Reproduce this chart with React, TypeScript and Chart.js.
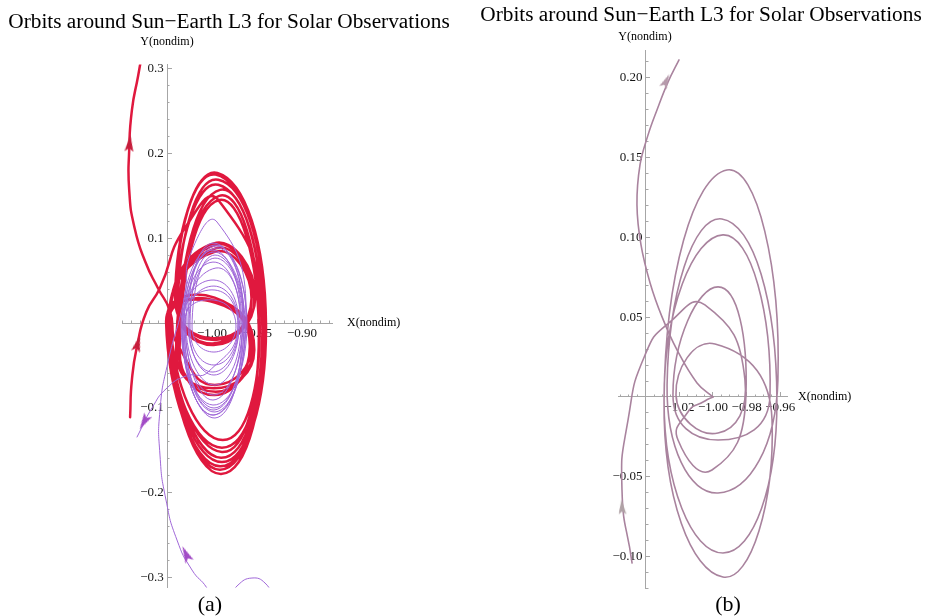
import React, { useEffect, useRef } from 'react';
import { Chart, registerables } from 'chart.js';

Chart.register(...registerables);

const TITLE = 'Orbits around Sun\u2212Earth L3 for Solar Observations';
const SERIF = "'Liberation Serif', 'Times New Roman', serif";
const AXIS_COLOR = '#a6a6a6';
const RED = '#e0183e';
const PURPLE = '#a068d8';
const MAUVE = '#a9839e';

// ---------- Panel (a) ticks ----------
const A_X_TICKS = [-1.0, -0.95, -0.9];
const A_X_LABELS = ['\u22121.00', '\u22120.95', '\u22120.90'];
const A_X_MINOR = [-1.10, -1.09, -1.08, -1.07, -1.06, -1.05, -1.04, -1.03, -1.02, -1.01, -1.00, -0.99, -0.98, -0.97, -0.96, -0.95, -0.94, -0.93, -0.92, -0.91, -0.90, -0.89, -0.88, -0.87];
const A_Y_TICKS = [-0.3, -0.2, -0.1, 0.1, 0.2, 0.3];
const A_Y_LABELS = ['\u22120.3', '\u22120.2', '\u22120.1', '0.1', '0.2', '0.3'];
const A_Y_MINOR = [-0.30, -0.28, -0.26, -0.24, -0.22, -0.20, -0.18, -0.16, -0.14, -0.12, -0.10, -0.08, -0.06, -0.04, -0.02, 0.02, 0.04, 0.06, 0.08, 0.10, 0.12, 0.14, 0.16, 0.18, 0.20, 0.22, 0.24, 0.26, 0.28, 0.30];

// ---------- Panel (a) red trajectory ----------
const A_RED_ARRIVAL = [
  [-1.091, -0.111], [-1.089, -0.067], [-1.083, -0.026], [-1.073, 0.013], [-1.058, 0.041], [-1.030, 0.112],
];
const A_RED_LOOPS = [
  [-0.993, 0.145], [-0.944, -0.008], [-0.989, -0.164], [-1.047, -0.008],
  [-0.997, 0.092], [-0.953, 0.027], [-0.997, -0.020], [-1.040, 0.027],
  [-0.996, 0.175], [-0.941, 0.004], [-0.991, -0.173], [-1.049, 0.001],
  [-0.998, 0.025], [-0.954, -0.026], [-0.996, -0.081], [-1.038, -0.026],
  [-0.991, 0.157], [-0.944, -0.002], [-0.989, -0.147], [-1.048, -0.002],
  [-0.996, 0.088], [-0.956, 0.030], [-0.999, -0.024], [-1.038, 0.027],
  [-0.993, 0.169], [-0.942, 0.006], [-0.990, -0.178], [-1.050, 0.004],
  [-0.997, 0.030], [-0.953, -0.032], [-0.998, -0.077], [-1.040, -0.032],
  [-0.992, 0.150], [-0.947, 0.001], [-0.988, -0.138], [-1.046, 0.001],
  [-0.998, 0.094], [-0.952, 0.032], [-0.996, -0.018], [-1.041, 0.030],
  [-0.994, 0.177], [-0.940, -0.001], [-0.991, -0.169], [-1.051, 0.001],
  [-0.996, 0.024], [-0.958, -0.028], [-0.997, -0.085], [-1.036, -0.030],
  [-0.992, 0.145], [-0.948, -0.008], [-0.989, -0.152], [-1.047, -0.002],
  [-0.997, 0.084], [-0.956, 0.027], [-0.998, -0.026], [-1.039, 0.025],
  [-0.993, 0.163], [-0.944, -0.002], [-0.990, -0.159], [-1.048, 0.000],
  [-0.998, 0.027], [-0.956, -0.026], [-0.997, -0.073], [-1.038, -0.026],
];
const A_RED_DEPARTURE = [
  [-1.047, 0.015], [-1.060, 0.041], [-1.074, 0.072], [-1.086, 0.112], [-1.092, 0.157],
  [-1.092, 0.204], [-1.089, 0.251], [-1.082, 0.292], [-1.077, 0.322],
];

// ---------- Panel (a) purple trajectory ----------
const A_PURPLE_ARRIVAL = [
  [-0.9967, -0.3325], [-1.0056, -0.3125], [-1.0222, -0.2913], [-1.0389, -0.2559], [-1.0511, -0.2087],
  [-1.0578, -0.1557], [-1.0578, -0.1026], [-1.0489, -0.046], [-1.0311, 0.0271], [-1.0222, 0.0861],
];
const A_PURPLE_LOOPS = [
  [-0.9944, 0.1191], [-0.9622, 0.0035], [-0.9978, -0.1085], [-1.0333, -0.0024],
  [-0.9967, 0.0920], [-0.9644, 0.0012], [-0.9978, -0.1026], [-1.0311, -0.0035],
  [-0.9989, 0.0861], [-0.9667, -0.0035], [-0.9967, -0.1120], [-1.0322, -0.0083],
  [-0.9956, 0.0649], [-0.9689, 0.0035], [-0.9989, -0.0578], [-1.0267, 0.0012],
  [-0.9978, 0.0943], [-0.9611, -0.0024], [-0.9989, -0.0967], [-1.0344, 0.0012],
  [-0.9967, 0.0389], [-0.9711, -0.0059], [-0.9978, -0.0495], [-1.0244, -0.0059],
  [-0.9989, 0.0837], [-0.9633, 0.0012], [-0.9967, -0.1049], [-1.0322, -0.0035],
  [-0.9956, 0.0884], [-0.9656, 0.0059], [-0.9989, -0.0908], [-1.0300, 0.0035],
  [-0.9978, 0.0271], [-0.9733, -0.0035], [-0.9978, -0.0342], [-1.0222, -0.0035],
  [-0.9967, 0.0802], [-0.9644, -0.0024], [-0.9978, -0.1002], [-1.0311, -0.0024],
  [-0.9989, 0.0719], [-0.9678, 0.0012], [-0.9967, -0.0731], [-1.0289, -0.0012],
  [-0.9956, 0.0908], [-0.9622, 0.0035], [-0.9989, -0.1085], [-1.0333, 0.0012],
  [-0.9978, 0.0507], [-0.9700, -0.0024], [-0.9978, -0.0613], [-1.0256, -0.0024],
  [-0.9967, 0.0766], [-0.9656, 0.0], [-0.9978, -0.0849], [-1.0300, -0.0024],
  [-0.9978, 0.0436], [-0.9711, -0.0035], [-1.0044, -0.0578],
];
const A_PURPLE_DEPARTURE = [
  [-1.0289, -0.0625], [-1.0500, -0.0766], [-1.0667, -0.1002], [-1.0833, -0.1344],
];
const A_PURPLE_ARC = [
  [-0.9822, -0.3266], [-0.9711, -0.3090], [-0.9556, -0.3007], [-0.9411, -0.3066], [-0.9300, -0.3266],
];

// ---------- Panel (a) arrowheads ----------
const A_ARROW_POS = [[-1.0915, 0.212], [-1.0825, -0.024], [-1.0756, -0.1167], [-1.0289, -0.2724]];
const A_ARROW_ROT = [5, 15, 210, -25];
const A_ARROW_COLORS = ['#c61d3b', '#c61d3b', '#a24cc6', '#a24cc6'];

// ---------- Panel (b) ticks ----------
const B_X_TICKS = [-1.02, -1.0, -0.98, -0.96];
const B_X_LABELS = ['\u22121.02', '\u22121.00', '\u22120.98', '\u22120.96'];
const B_X_MINOR = [-1.055, -1.05, -1.045, -1.04, -1.035, -1.03, -1.025, -1.02, -1.015, -1.01, -1.005, -1.00, -0.995, -0.99, -0.985, -0.98, -0.975, -0.97, -0.965, -0.96];
const B_Y_TICKS = [-0.1, -0.05, 0.05, 0.1, 0.15, 0.2];
const B_Y_LABELS = ['\u22120.10', '\u22120.05', '0.05', '0.10', '0.15', '0.20'];
const B_Y_MINOR = [-0.12, -0.11, -0.10, -0.09, -0.08, -0.07, -0.06, -0.05, -0.04, -0.03, -0.02, -0.01, 0.01, 0.02, 0.03, 0.04, 0.05, 0.06, 0.07, 0.08, 0.09, 0.10, 0.11, 0.12, 0.13, 0.14, 0.15, 0.16, 0.17, 0.18, 0.19, 0.20, 0.21];

// ---------- Panel (b) trajectory ----------
const B_ARRIVAL = [
  [-1.0481, -0.1041], [-1.0541, -0.0583], [-1.0505, -0.0144], [-1.0404, 0.0263], [-1.0262, 0.0464],
];
const B_LOOPS = [
  [-1.0048, 0.0577], [-0.9810, 0.0107], [-0.9970, -0.0226],
  [-1.0220, 0.0013], [-0.9988, 0.0332], [-0.9649, -0.0144], [-0.9941, -0.1129],
  [-1.0291, -0.0019], [-0.9917, 0.1423], [-0.9614, 0.0107], [-0.9970, -0.0602],
  [-1.0273, 0.0075], [-0.9947, 0.1116], [-0.9620, -0.0019], [-0.9941, -0.0978],
  [-1.0291, -0.0019], [-0.9941, 0.1016], [-0.9661, 0.0013], [-0.9970, -0.0270],
  [-1.0238, 0.0013], [-0.9970, 0.0690], [-0.9804, 0.0013], [-1.0006, -0.0458],
  [-1.0208, -0.0270], [-1.0149, -0.0094], [-1.0048, -0.0025], [-1.0000, 0.0],
];
const B_DEPARTURE = [
  [-1.0000, 0.0], [-1.0095, 0.0088], [-1.0214, 0.0295], [-1.0303, 0.0502], [-1.0374, 0.0715],
  [-1.0428, 0.0953], [-1.0452, 0.1204], [-1.0434, 0.1455], [-1.0386, 0.1643], [-1.0333, 0.1799],
  [-1.0267, 0.1975], [-1.0202, 0.2113],
];
const B_ARROW_POS = [[-1.0279, 0.1981], [-1.0541, -0.0690]];
const B_ARROW_ROT = [25, -3];
const B_ARROW_COLORS = ['#b69aab', '#b0a2a6'];

const toXY = (arr: number[][]) => arr.map(([x, y]) => ({ x, y }));

function makeArrow(color: string, w: number, h: number) {
  const c = document.createElement('canvas');
  c.width = w;
  c.height = h;
  const g = c.getContext('2d') as CanvasRenderingContext2D;
  g.fillStyle = color;
  g.beginPath();
  g.moveTo(w / 2, 0);
  g.lineTo(w, h);
  g.lineTo(w / 2, h * 0.78);
  g.lineTo(0, h);
  g.closePath();
  g.fill();
  return c;
}

function scale(axis: 'x' | 'y', pos: any, min: number, max: number, ticks: number[], labels: string[] | null, pad: number) {
  const major = !!labels;
  return {
    type: 'linear',
    axis,
    position: pos,
    min,
    max,
    afterBuildTicks: (s: any) => {
      s.ticks = ticks.map((v) => ({ value: v }));
    },
    ticks: {
      display: major,
      autoSkip: false,
      maxRotation: 0,
      minRotation: 0,
      padding: pad,
      color: '#151515',
      font: { family: SERIF, size: 13 },
      callback: (_v: any, i: number) => (labels ? (axis === 'y' ? labels[i] + ' ' : labels[i]) : ''),
    },
    grid: {
      display: true,
      drawOnChartArea: false,
      drawTicks: true,
      tickLength: major ? -5 : -2.5,
      tickColor: AXIS_COLOR,
      tickWidth: 1,
    },
    border: { display: major, color: AXIS_COLOR, width: 1 },
  };
}

const lineDs = (data: number[][], color: string, width: number, tension: number) => ({
  data: toXY(data),
  showLine: true,
  borderColor: color,
  borderWidth: width,
  pointRadius: 0,
  pointHoverRadius: 0,
  tension,
  fill: false,
  borderJoinStyle: 'round',
  borderCapStyle: 'round',
  xAxisID: 'x',
  yAxisID: 'y',
});

function baseOptions(padding: any, scales: any) {
  return {
    responsive: false,
    animation: false,
    devicePixelRatio: 1,
    events: [],
    layout: { padding },
    elements: { line: { capBezierPoints: false } },
    plugins: { legend: { display: false }, tooltip: { enabled: false }, title: { display: false } },
    scales,
  };
}

export default function App() {
  const refA = useRef<HTMLCanvasElement>(null);
  const refB = useRef<HTMLCanvasElement>(null);

  useEffect(() => {
    const arrowsA = A_ARROW_COLORS.map((c) => makeArrow(c, 9, 17));
    const arrowsB = B_ARROW_COLORS.map((c) => makeArrow(c, 8, 15));

    const chartA = new Chart(refA.current as HTMLCanvasElement, {
      type: 'scatter',
      data: {
        datasets: [
          {
            data: toXY(A_ARROW_POS),
            showLine: false,
            pointStyle: arrowsA,
            pointRotation: A_ARROW_ROT,
            pointRadius: 8,
            pointHoverRadius: 8,
            xAxisID: 'x',
            yAxisID: 'y',
          },
          lineDs(A_PURPLE_ARC, PURPLE, 1, 0.5),
          lineDs([...A_PURPLE_ARRIVAL, ...A_PURPLE_LOOPS, ...A_PURPLE_DEPARTURE], PURPLE, 1, 0.55),
          lineDs([...A_RED_ARRIVAL, ...A_RED_LOOPS, ...A_RED_DEPARTURE], RED, 2.5, 0.55),
        ] as any,
      },
      options: baseOptions(
        { left: 122, right: 132.4, top: 64.4, bottom: 28.4 },
        {
          x: scale('x', { y: 0 }, -1.10, -0.866, A_X_TICKS, A_X_LABELS, 7.5),
          xMinor: scale('x', { y: 0 }, -1.10, -0.866, A_X_MINOR, null, 0),
          y: scale('y', { x: -1.05 }, -0.312, 0.305, A_Y_TICKS, A_Y_LABELS, 0),
          yMinor: scale('y', { x: -1.05 }, -0.312, 0.305, A_Y_MINOR, null, 0),
        }
      ) as any,
    });

    const chartB = new Chart(refB.current as HTMLCanvasElement, {
      type: 'scatter',
      data: {
        datasets: [
          {
            data: toXY(B_ARROW_POS),
            showLine: false,
            pointStyle: arrowsB,
            pointRotation: B_ARROW_ROT,
            pointRadius: 7,
            pointHoverRadius: 7,
            xAxisID: 'x',
            yAxisID: 'y',
          },
          lineDs([...B_ARRIVAL, ...B_LOOPS], MAUVE, 1.6, 0.55),
          lineDs(B_DEPARTURE, MAUVE, 1.6, 0.4),
        ] as any,
      },
      options: baseOptions(
        { left: 153.8, right: 143, top: 50, bottom: 27.6 },
        {
          x: scale('x', { y: 0 }, -1.056, -0.956, B_X_TICKS, B_X_LABELS, 8),
          xMinor: scale('x', { y: 0 }, -1.056, -0.956, B_X_MINOR, null, 0),
          y: scale('y', { x: -1.04 }, -0.12, 0.2175, B_Y_TICKS, B_Y_LABELS, 0),
          yMinor: scale('y', { x: -1.04 }, -0.12, 0.2175, B_Y_MINOR, null, 0),
        }
      ) as any,
    });

    return () => {
      chartA.destroy();
      chartB.destroy();
    };
  }, []);

  const text = (content: string, left: number, top: number, size: number, width: number, align: 'center' | 'left') => (
    <div
      style={{
        position: 'absolute',
        left: align === 'center' ? left - width / 2 : left,
        top,
        width,
        textAlign: align,
        fontFamily: SERIF,
        fontSize: size,
        lineHeight: '1',
        color: '#000',
        whiteSpace: 'nowrap',
      }}
    >
      {content}
    </div>
  );

  return (
    <div style={{ position: 'absolute', left: 0, top: 0, width: 930, height: 616, background: '#fff', overflow: 'hidden' }}>
      <canvas ref={refA} width={465} height={616} style={{ position: 'absolute', left: 0, top: 0, width: 465, height: 616 }} />
      <canvas ref={refB} width={465} height={616} style={{ position: 'absolute', left: 465, top: 0, width: 465, height: 616 }} />
      {text(TITLE, 229, 11, 21.3, 500, 'center')}
      {text(TITLE, 701, 4, 21.3, 500, 'center')}
      {text('Y(nondim)', 167, 35, 12, 100, 'center')}
      {text('Y(nondim)', 645, 29.5, 12, 100, 'center')}
      {text('X(nondim)', 347, 316, 12, 100, 'left')}
      {text('X(nondim)', 798, 389.5, 12, 100, 'left')}
      {text('(a)', 210, 593, 22, 60, 'center')}
      {text('(b)', 728, 593, 22, 60, 'center')}
    </div>
  );
}
